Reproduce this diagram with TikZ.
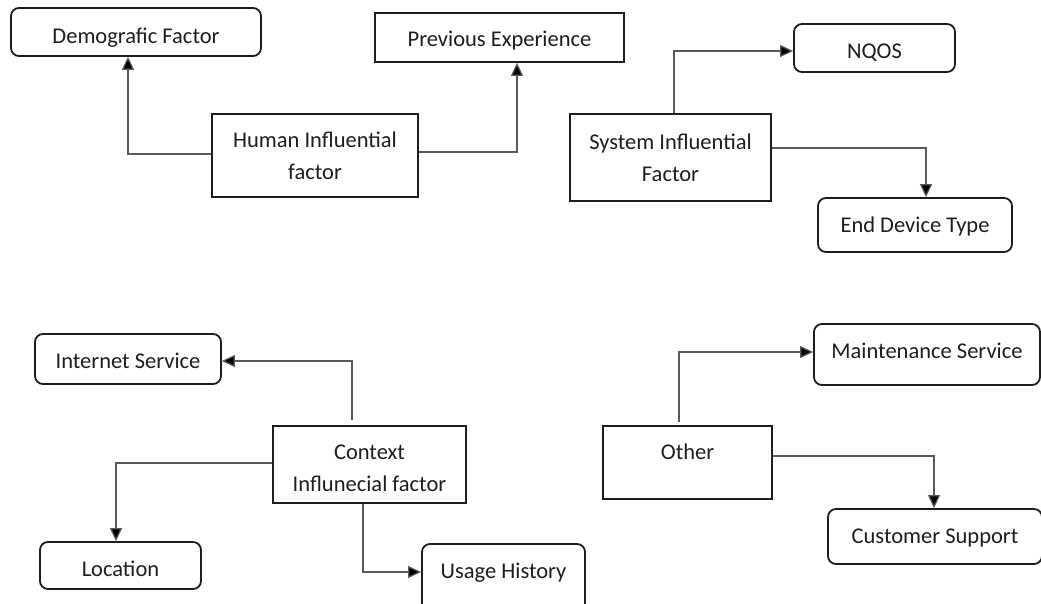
\documentclass[tikz,border=0pt]{standalone}
\usepackage{fontspec}
\setmainfont{Carlito}
\usetikzlibrary{arrows.meta}
\definecolor{ink}{HTML}{1E1E1E}
\definecolor{wire}{HTML}{5A5A5A}
\tikzset{
  x=1pt, y=-1pt,
  box/.style={draw=ink, line width=1.8pt, inner sep=0pt, text=ink,
    font=\fontsize{22.5}{32}\selectfont, align=center},
  plainbox/.style={box},
  roundbox/.style={box, rounded corners=8pt},
  conn/.style={draw=wire, line width=1.2pt,
    -{Triangle[width=12pt,length=13pt,fill=black]}},
}
\begin{document}
\begin{tikzpicture}
\useasboundingbox (0,0) rectangle (1041,603);
\clip (0,0) rectangle (1041,603);

% human influential factor group
\node[roundbox, minimum width=250pt, minimum height=48pt, text height=26pt, text depth=3pt] (dem) at (136,32) {Demografic Factor};
\node[plainbox, minimum width=249pt, minimum height=49pt, text height=21pt, text depth=3pt] (prev) at (499.5,37.5) {Previous Experience};
\node[plainbox, minimum width=206pt, minimum height=83pt] (hum) at (315,155.5) {Human Influential\\factor};

% system influential factor group
\node[roundbox, minimum width=161pt, minimum height=48pt, text height=24pt, text depth=3pt] (nqos) at (874.5,48) {NQOS};
\node[plainbox, minimum width=201pt, minimum height=87pt] (sys) at (670.5,157.5) {System Influential\\Factor};
\node[roundbox, minimum width=194pt, minimum height=54pt, text height=18pt, text depth=3pt] (end) at (915,225) {End Device Type};

% context influential factor group
\node[roundbox, minimum width=186pt, minimum height=50pt, text height=22pt, text depth=3pt] (inet) at (128,359) {Internet Service};
\node[plainbox, minimum width=193pt, minimum height=77pt] (ctx) at (369.5,464.5) {\rule{0pt}{23pt}Context\\Influnecial factor};
\node[roundbox, minimum width=161pt, minimum height=47pt, text height=25pt, text depth=3pt] (loc) at (120.5,565.5) {Location};
\node[roundbox, minimum width=163pt, minimum height=70pt, text height=14pt, text depth=15pt] (use) at (503.5,579) {Usage History};

% other factors group
\node[roundbox, minimum width=226pt, minimum height=61pt, text height=14pt, text depth=7pt] (mnt) at (927,354.5) {Maintenance Service};
\node[plainbox, minimum width=169pt, minimum height=73pt, text height=14pt, text depth=20pt] (oth) at (687.5,462.5) {Other};
\node[roundbox, minimum width=214pt, minimum height=55pt, text height=18pt, text depth=5pt] (cust) at (935,536.5) {Customer Support};

% connectors
\draw[conn] ([yshift=1.5pt]hum.west) -| ([xshift=-8pt]dem.south);
\draw[conn] ([yshift=3.5pt]hum.east) -| ([xshift=17.5pt]prev.south);
\draw[conn] ([xshift=3.5pt]sys.north) |- ([yshift=-3pt]nqos.west);
\draw[conn] ([yshift=9.5pt]sys.east) -| ([xshift=11pt]end.north);
\draw[conn, shorten <=5pt] ([xshift=-17.5pt]ctx.north) |- ([yshift=-2pt]inet.east);
\draw[conn] ([yshift=1.5pt]ctx.west) -| ([xshift=-4.5pt]loc.north);
\draw[conn] ([xshift=-6.5pt]ctx.south) |- ([yshift=7pt]use.west);
\draw[conn, shorten <=3pt] ([xshift=-8.5pt]oth.north) |- ([yshift=2.5pt]mnt.west);
\draw[conn] ([yshift=6.5pt]oth.east) -| ([xshift=-1pt]cust.north);
\end{tikzpicture}
\end{document}
